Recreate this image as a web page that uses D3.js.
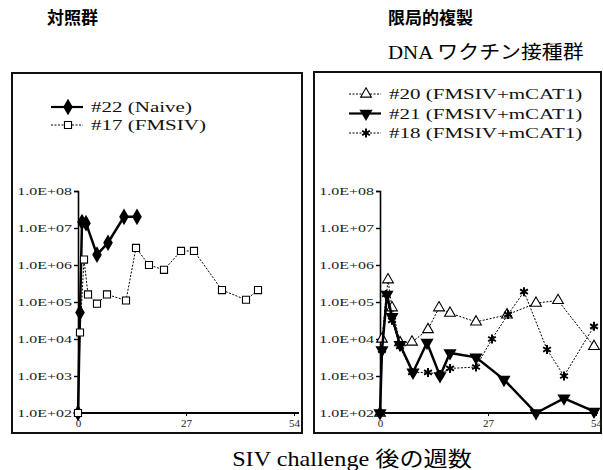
<!DOCTYPE html>
<html>
<head>
<meta charset="utf-8">
<script src="https://cdn.jsdelivr.net/npm/d3@7"></script>
<style>
  body { margin: 0; background: #fff; }
  svg { display: block; }
</style>
</head>
<body>
<div id="chart"></div>
<script>
'use strict'

// Viral load data
//----------------------------------------------
var weeks22 = [0, 0.5, 1, 2, 4.75, 7.5, 11.5, 14.75]
var load22  = [1e2, 5.2e4, 1.45e7, 1.35e7, 1.9e6, 4e6, 2e7, 2e7]

var weeks17 = [0, 0.5, 1.5, 2.5, 4.75, 7.25, 12, 14.5, 17.75, 21.5, 25.75, 29, 36, 42, 45]
var load17  = [1e2, 1.5e4, 1.4e6, 1.6e5, 9e4, 1.6e5, 1.1e5, 2.9e6, 1e6, 7.4e5, 2.4e6, 2.4e6, 2.1e5, 1.15e5, 2.1e5]

var weeks20 = [0, 0.5, 2, 3, 5, 8, 12, 14.75, 17.5, 24, 31.75, 39, 44.5, 53.5]
var load20  = [1e2, 1e4, 4e5, 7e4, 8e3, 8.3e3, 1.8e4, 7e4, 5e4, 2.9e4, 4.5e4, 9.3e4, 1.1e5, 6.3e3]

var weeks21 = [0, 0.5, 1.75, 3, 5, 8.25, 11.75, 15, 17.5, 24, 31, 39, 46, 53.5]
var load21  = [1e2, 5e3, 1.6e5, 4e4, 7e3, 1.25e3, 8e3, 1e3, 4.2e3, 3.2e3, 8e2, 1e2, 2.5e2, 1.1e2]

var weeks18 = [0, 0.5, 1.5, 3, 5, 8, 12, 15, 17.5, 24, 28, 32, 36, 41.75, 46, 53.5]
var load18  = [1e2, 5e3, 1.6e5, 3.2e4, 6.3e3, 1.25e3, 1.25e3, 1.1e3, 1.6e3, 1.75e3, 1e4, 4.6e4, 1.9e5, 5.2e3, 1e3, 2.2e4]

var xTicks = [0, 27, 54]
var yTicks = [1e2, 1e3, 1e4, 1e5, 1e6, 1e7, 1e8]

var leftTitle   = '対照群'
var rightTitle1 = '限局的複製'
var rightTitle2 = 'DNA ワクチン接種群'
var xTitle      = 'SIV challenge 後の週数'

var leftSeries = [
  { name: '#22 (Naive)', weeks: weeks22, load: load22, marker: 'diamond', solid: true },
  { name: '#17 (FMSIV)', weeks: weeks17, load: load17, marker: 'square', solid: false }
]
var rightSeries = [
  { name: '#20 (FMSIV+mCAT1)', weeks: weeks20, load: load20, marker: 'tri', solid: false },
  { name: '#21 (FMSIV+mCAT1)', weeks: weeks21, load: load21, marker: 'tridown', solid: true },
  { name: '#18 (FMSIV+mCAT1)', weeks: weeks18, load: load18, marker: 'star', solid: false }
]

var W = 603, H = 470
var SERIF = '"Liberation Serif", "Times New Roman", serif'
var CJK = '"Liberation Serif", "Noto Sans CJK JP", serif'

var svg = d3.select('#chart').append('svg')
  .attr('width', W)
  .attr('height', H)

// The scan is wider than a normal font, so stretch texts a bit
//------------------------------------------------------------
function stretch( sel, k) {
  sel.each( function() {
    var len = this.getComputedTextLength()
    d3.select( this)
      .attr('textLength', len * k)
      .attr('lengthAdjust', 'spacingAndGlyphs')
  })
}

// Draw one marker at (0,0) into group g
//----------------------------------------
function marker( g, kind) {
  var sym = d3.symbol()
  if (kind == 'diamond') {
    g.append('path').attr('d', sym.type( d3.symbolDiamond).size( 80)())
      .attr('fill', '#000')
  }
  else if (kind == 'square') {
    g.append('path').attr('d', sym.type( d3.symbolSquare).size( 50)())
      .attr('fill', '#fff').attr('stroke', '#000').attr('stroke-width', 1.1)
  }
  else if (kind == 'tri') {
    g.append('path').attr('d', sym.type( d3.symbolTriangle).size( 50)())
      .attr('fill', '#fff').attr('stroke', '#000').attr('stroke-width', 1.1)
  }
  else if (kind == 'tridown') {
    g.append('path').attr('d', sym.type( d3.symbolTriangle).size( 75)())
      .attr('transform', 'rotate(180)')
      .attr('fill', '#000')
  }
  else { // asterisk
    var r = 4.5
    var star = g.append('g').attr('stroke', '#000').attr('stroke-width', 2)
    ;[0, 60, 120].forEach( function(a) {
      var t = (a + 90) * Math.PI / 180
      star.append('line')
        .attr('x1', -r * Math.cos(t)).attr('y1', -r * Math.sin(t))
        .attr('x2', r * Math.cos(t)).attr('y2', r * Math.sin(t))
    })
  }
}

// One panel: frame, axes, legend, lines
//----------------------------------------
function panel( opt) {
  var g = svg.append('g')

  // frame
  g.append('rect')
    .attr('x', opt.frame[0]).attr('y', opt.frame[1])
    .attr('width', opt.frame[2] - opt.frame[0])
    .attr('height', opt.frame[3] - opt.frame[1])
    .attr('fill', 'none').attr('stroke', '#111').attr('stroke-width', 2)

  var scale_x = d3.scaleLinear().domain([0, 54]).range([opt.x0, opt.x0 + 216])
  var scale_y = d3.scaleLog().domain([1e2, 1e8]).range([413, 191])

  // y axis
  var yAxis = g.append('g')
    .attr('transform', 'translate(' + opt.x0 + ',0)')
    .call( d3.axisLeft( scale_y).tickValues( yTicks).tickSize( 4).tickPadding( 2)
      .tickFormat( function(d) { return '1.0E+0' + Math.round( Math.log10( d)) }))
  yAxis.select('.domain').attr('stroke-width', 1.6)
  yAxis.selectAll('.tick line').attr('stroke-width', 1.4)
  yAxis.selectAll('text')
    .attr('font-family', SERIF).attr('font-size', 11).attr('fill', '#222')
    .call( stretch, 1.45)

  // x axis
  var xAxis = g.append('g')
    .attr('transform', 'translate(0,413)')
    .call( d3.axisBottom( scale_x).tickValues( xTicks).tickSize( 3).tickPadding( 3))
  xAxis.select('.domain').attr('stroke-width', 1.8)
    .attr('d', 'M' + opt.x0 + ',0H' + (opt.frame[2] - 3))
  xAxis.selectAll('text')
    .attr('font-family', SERIF).attr('font-size', 11).attr('fill', '#222')

  // series
  opt.series.forEach( function(s) {
    var pts = s.weeks.map( function(w, i) { return [w, s.load[i]] })
    var line = d3.line()
      .x( function(d) { return scale_x( d[0]) })
      .y( function(d) { return scale_y( d[1]) })
    g.append('path')
      .datum( pts)
      .attr('d', line)
      .attr('fill', 'none')
      .attr('stroke', '#000')
      .attr('stroke-width', s.solid ? 2.5 : 1)
      .attr('stroke-dasharray', s.solid ? null : '2,1.5')
    g.selectAll( null)
      .data( pts)
      .enter().append('g')
      .attr('transform', function(d) { return 'translate(' + scale_x( d[0]) + ',' + scale_y( d[1]) + ')' })
      .each( function() { marker( d3.select( this), s.marker) })
  })

  // legend
  opt.series.forEach( function(s, i) {
    var y = opt.legY + i * opt.legStep
    var lx = opt.legX
    g.append('line')
      .attr('x1', lx).attr('x2', lx + 32).attr('y1', y).attr('y2', y)
      .attr('stroke', '#000')
      .attr('stroke-width', s.solid ? 2.2 : 1)
      .attr('stroke-dasharray', s.solid ? null : '2,1.5')
    marker( g.append('g').attr('transform', 'translate(' + (lx + 17) + ',' + y + ')'), s.marker)
    g.append('text')
      .attr('x', lx + 40).attr('y', y + 5)
      .attr('font-family', SERIF).attr('font-size', 15).attr('fill', '#111')
      .text( s.name)
      .call( stretch, 1.4)
  })
}

panel({ frame: [12, 73, 302, 433], x0: 78, series: leftSeries,
  legX: 51, legY: 107, legStep: 18 })
panel({ frame: [314, 72, 601, 433], x0: 380, series: rightSeries,
  legX: 349, legY: 94, legStep: 19.5 })

// titles
//--------
svg.append('text')
  .attr('x', 47).attr('y', 24)
  .attr('font-family', CJK).attr('font-size', 17).attr('font-weight', 'bold')
  .text( leftTitle)
svg.append('text')
  .attr('x', 388).attr('y', 24)
  .attr('font-family', CJK).attr('font-size', 17).attr('font-weight', 'bold')
  .text( rightTitle1)
svg.append('text')
  .attr('x', 388).attr('y', 59)
  .attr('font-family', CJK).attr('font-size', 19)
  .text( rightTitle2)
  .call( stretch, 1.1)
svg.append('text')
  .attr('x', 352).attr('y', 466)
  .attr('text-anchor', 'middle')
  .attr('font-family', CJK).attr('font-size', 21)
  .text( xTitle)
  .call( stretch, 1.15)
</script>
</body>
</html>
